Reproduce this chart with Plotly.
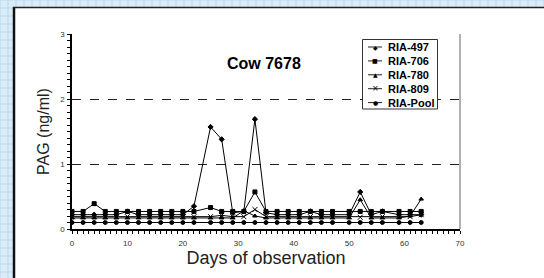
import plotly.graph_objects as go

days = [0, 2, 4, 6, 8, 10, 12, 14, 16, 18, 20, 22, 25, 27, 29, 31, 33, 35, 37, 39, 41, 43, 45, 47, 50, 52, 54, 56, 59, 61, 63]
ria_497 = [0.22, 0.22, 0.22, 0.22, 0.22, 0.27, 0.22, 0.22, 0.22, 0.22, 0.22, 0.35, 1.57, 1.38, 0.25, 0.27, 1.69, 0.25, 0.22, 0.22, 0.22, 0.27, 0.22, 0.22, 0.22, 0.57, 0.22, 0.27, 0.22, 0.22, 0.22]
ria_706 = [0.27, 0.27, 0.39, 0.27, 0.27, 0.27, 0.27, 0.27, 0.27, 0.27, 0.27, 0.27, 0.33, 0.27, 0.27, 0.27, 0.57, 0.27, 0.27, 0.27, 0.27, 0.27, 0.27, 0.27, 0.27, 0.27, 0.27, 0.27, 0.27, 0.27, 0.27]
ria_780 = [0.17, 0.17, 0.17, 0.17, 0.17, 0.17, 0.17, 0.17, 0.17, 0.17, 0.17, 0.17, 0.17, 0.17, 0.17, 0.28, 0.2, 0.17, 0.17, 0.17, 0.17, 0.17, 0.17, 0.17, 0.17, 0.45, 0.17, 0.17, 0.17, 0.2, 0.46]
ria_809 = [0.19, 0.19, 0.19, 0.19, 0.19, 0.19, 0.19, 0.19, 0.19, 0.19, 0.19, 0.19, 0.19, 0.21, 0.19, 0.19, 0.3, 0.19, 0.19, 0.19, 0.19, 0.19, 0.19, 0.19, 0.19, 0.18, 0.19, 0.19, 0.19, 0.19, 0.22]
ria_pool = [0.10, 0.10, 0.10, 0.10, 0.10, 0.10, 0.10, 0.10, 0.10, 0.10, 0.10, 0.10, 0.10, 0.10, 0.10, 0.10, 0.10, 0.10, 0.10, 0.10, 0.10, 0.10, 0.10, 0.10, 0.10, 0.10, 0.10, 0.10, 0.10, 0.10, 0.10]

series_names = ["RIA-497", "RIA-706", "RIA-780", "RIA-809", "RIA-Pool"]
series_values = [ria_497, ria_706, ria_780, ria_809, ria_pool]
symbols = ["diamond", "square", "triangle-up", "x-thin-open", "circle"]
legend_glyphs = ["◆", "■", "▲", "×", "●"]
sizes = [4, 4, 4, 5, 4]

W, H = 544, 278
L, R, T, B = 72, 460, 34, 229

fig = go.Figure()
for name, vals, sym, sz in zip(series_names, series_values, symbols, sizes):
    fig.add_trace(go.Scatter(
        x=days, y=vals, name=name, mode="lines+markers",
        line=dict(color="black", width=1),
        marker=dict(symbol=sym, size=sz, color="black",
                    line=dict(color="black", width=1)),
    ))

def px2x(px):
    return (px - L) / (R - L)

def py2y(py):
    return (B - py) / (B - T)

shapes = []
# graph paper background
for gx in range(0, W + 1, 8):
    shapes.append(dict(type="line", xref="paper", yref="paper",
                       x0=px2x(gx), x1=px2x(gx), y0=py2y(0), y1=py2y(H),
                       line=dict(color="#b9d9ef", width=1), layer="below"))
for gy in range(0, H + 1, 8):
    shapes.append(dict(type="line", xref="paper", yref="paper",
                       x0=px2x(0), x1=px2x(W), y0=py2y(gy), y1=py2y(gy),
                       line=dict(color="#b9d9ef", width=1), layer="below"))
# white panel
shapes.append(dict(type="rect", xref="paper", yref="paper",
                   x0=px2x(13), x1=px2x(W + 5), y0=py2y(H + 5), y1=py2y(7),
                   fillcolor="white", line=dict(width=0), layer="below"))
shapes.append(dict(type="line", xref="paper", yref="paper",
                   x0=px2x(14), x1=px2x(14), y0=py2y(H + 5), y1=py2y(7),
                   line=dict(color="#111", width=2.5), layer="below"))
shapes.append(dict(type="line", xref="paper", yref="paper",
                   x0=px2x(13), x1=px2x(W + 5), y0=py2y(7.5), y1=py2y(7.5),
                   line=dict(color="#222", width=1.5), layer="below"))
# right border of plot area
shapes.append(dict(type="line", xref="paper", yref="paper",
                   x0=1, x1=1, y0=0, y1=1,
                   line=dict(color="#999", width=1.5), layer="below"))

# custom compact legend
annotations = [
    dict(text="<b>Cow 7678</b>", xref="paper", yref="paper",
         x=px2x(264), y=py2y(53), showarrow=False,
         font=dict(size=16, color="black")),
]
shapes.append(dict(type="rect", xref="paper", yref="paper",
                   x0=px2x(362.5), x1=px2x(437.5), y0=py2y(109), y1=py2y(39.5),
                   fillcolor="white", line=dict(color="#333", width=1), layer="above"))
for i, (name, glyph) in enumerate(zip(series_names, legend_glyphs)):
    cy = 47 + i * 13.9
    shapes.append(dict(type="line", xref="paper", yref="paper",
                       x0=px2x(368), x1=px2x(382), y0=py2y(cy), y1=py2y(cy),
                       line=dict(color="#222", width=1), layer="above"))
    annotations.append(dict(text=glyph, xref="paper", yref="paper",
                            x=px2x(375), y=py2y(cy), xanchor="center", yanchor="middle",
                            showarrow=False,
                            font=dict(size=6 if glyph != "×" else 8, color="black",
                                      family="DejaVu Sans")))
    annotations.append(dict(text=f"<b>{name}</b>", xref="paper", yref="paper",
                            x=px2x(385.5), y=py2y(cy), xanchor="left", yanchor="middle",
                            showarrow=False,
                            font=dict(size=11, color="black",
                                      family="Arial, Liberation Sans, sans-serif")))

fig.update_layout(
    width=W, height=H,
    margin=dict(l=L, r=W - R, t=T, b=H - B),
    paper_bgcolor="#d9ecf7",
    plot_bgcolor="white",
    showlegend=False,
    shapes=shapes,
    annotations=annotations,
    font=dict(family="Arial, Liberation Sans, sans-serif", color="#222"),
    xaxis=dict(range=[0, 70], dtick=10, tick0=0, showgrid=False, automargin=False,
               showline=True, linecolor="black", linewidth=1.5,
               ticks="outside", ticklen=3, tickcolor="black",
               minor=dict(dtick=1, ticks="outside", ticklen=3, tickcolor="black"),
               tickfont=dict(size=8, color="#333"), ticklabelstandoff=3,
               title=dict(text="Days of observation", font=dict(size=18, color="#222"), standoff=0),
               zeroline=False),
    yaxis=dict(range=[0, 3], dtick=1, tick0=0, showgrid=True, automargin=False,
               gridcolor="#222", griddash="dash", gridwidth=1,
               showline=True, linecolor="black", linewidth=1.5,
               ticks="outside", ticklen=3, tickcolor="black",
               minor=dict(dtick=0.1, ticks="outside", ticklen=3, tickcolor="black", showgrid=False),
               tickfont=dict(size=8, color="#333"), ticklabelstandoff=1,
               title=dict(text="PAG (ng/ml)", font=dict(size=16, color="#222"), standoff=7),
               zeroline=False),
)

fig.write_html("out.html", config={"displayModeBar": False},
               post_script="document.body.style.margin='0';")
